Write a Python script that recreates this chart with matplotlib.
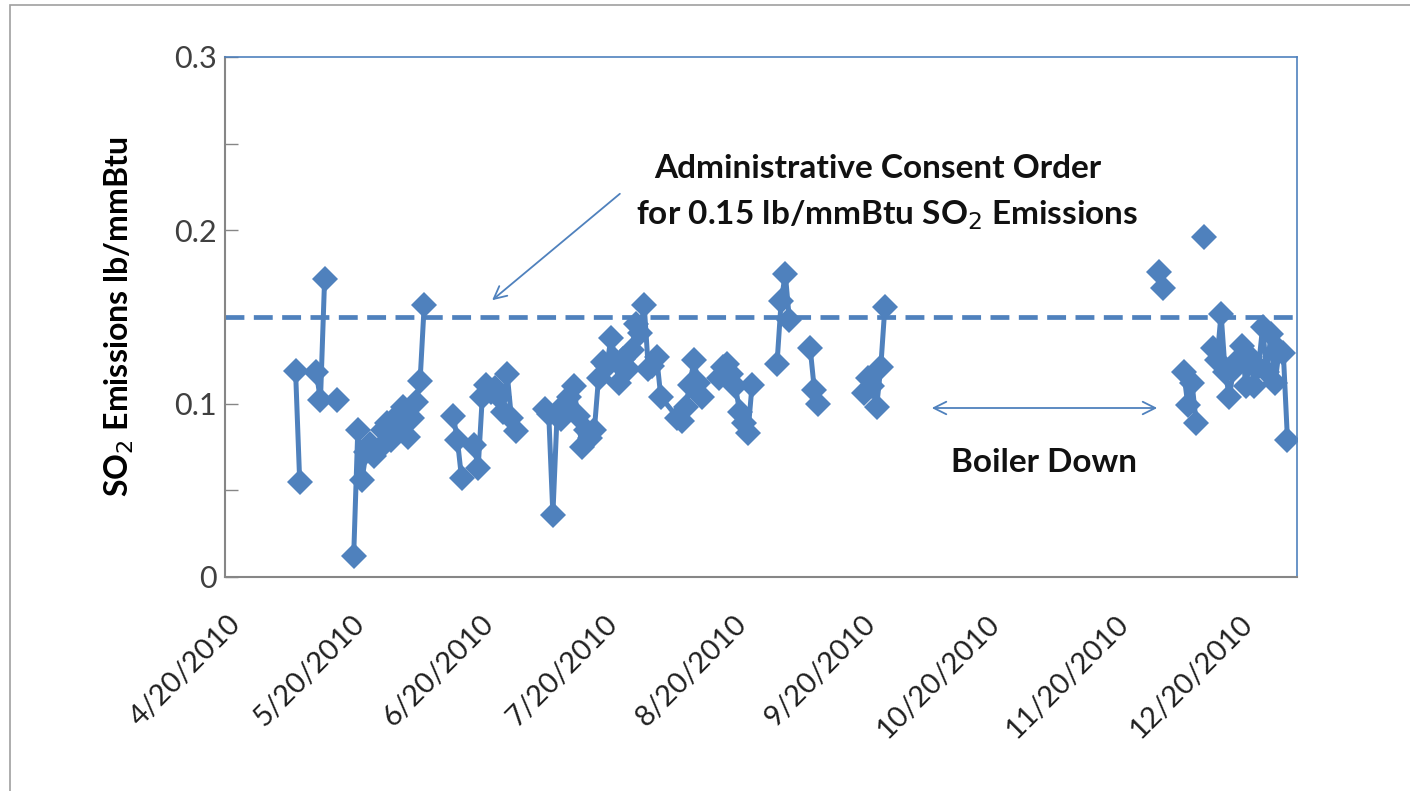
import numpy as np
import pandas as pd
import matplotlib
matplotlib.use("Agg")
import matplotlib.pyplot as plt
import matplotlib.dates as mdates
from matplotlib.transforms import ScaledTranslation
from matplotlib.patches import Rectangle

plt.rcParams['font.family'] = ['Lato', 'DejaVu Sans']

# daily SO2 readings, NaN = no line between neighbours
dates = [
    '2010-05-07', '2010-05-08', '2010-05-09',
    '2010-05-12', '2010-05-13', '2010-05-14', '2010-05-15',
    '2010-05-17', '2010-05-18',
    '2010-05-21', '2010-05-22', '2010-05-23', '2010-05-24', '2010-05-25', '2010-05-26',
    '2010-05-27', '2010-05-28', '2010-05-29', '2010-05-30', '2010-05-31', '2010-06-01',
    '2010-06-02', '2010-06-03', '2010-06-04', '2010-06-05', '2010-06-06', '2010-06-07',
    '2010-06-08',
    '2010-06-14', '2010-06-15', '2010-06-16', '2010-06-17',
    '2010-06-19', '2010-06-20', '2010-06-21', '2010-06-22', '2010-06-23', '2010-06-24',
    '2010-06-25', '2010-06-26', '2010-06-27', '2010-06-28', '2010-06-29', '2010-06-30',
    '2010-07-06', '2010-07-07', '2010-07-08', '2010-07-09', '2010-07-10', '2010-07-11',
    '2010-07-12', '2010-07-13', '2010-07-14', '2010-07-15', '2010-07-16', '2010-07-17',
    '2010-07-18', '2010-07-19', '2010-07-20', '2010-07-21', '2010-07-22', '2010-07-23',
    '2010-07-24', '2010-07-25', '2010-07-26', '2010-07-27', '2010-07-28', '2010-07-29',
    '2010-07-30', '2010-07-31', '2010-08-01', '2010-08-02', '2010-08-03',
    '2010-08-07', '2010-08-08', '2010-08-09', '2010-08-10', '2010-08-11', '2010-08-12',
    '2010-08-13', '2010-08-14',
    '2010-08-17', '2010-08-18', '2010-08-19', '2010-08-20', '2010-08-21', '2010-08-22',
    '2010-08-23', '2010-08-24', '2010-08-25', '2010-08-26',
    '2010-08-31', '2010-09-01', '2010-09-02', '2010-09-03', '2010-09-04',
    '2010-09-08', '2010-09-09', '2010-09-10', '2010-09-11',
    '2010-09-21', '2010-09-22', '2010-09-23', '2010-09-24', '2010-09-25', '2010-09-26',
    '2010-09-27',
    '2010-12-01', '2010-12-02', '2010-12-03',
    '2010-12-07', '2010-12-08', '2010-12-09', '2010-12-10', '2010-12-11',
    '2010-12-12', '2010-12-13',
    '2010-12-14', '2010-12-15', '2010-12-16', '2010-12-17', '2010-12-18', '2010-12-19',
    '2010-12-20', '2010-12-21', '2010-12-22', '2010-12-23', '2010-12-24', '2010-12-25',
    '2010-12-26', '2010-12-27', '2010-12-28', '2010-12-29', '2010-12-30', '2010-12-31',
    '2011-01-01',
]
so2 = [
    0.119, 0.055, np.nan,
    0.118, 0.102, 0.172, np.nan,
    0.102, np.nan,
    0.012, 0.085, 0.056, 0.072, 0.077, 0.070,
    0.074, 0.085, 0.089, 0.079, 0.092, 0.086,
    0.098, 0.081, 0.092, 0.101, 0.113, 0.157,
    np.nan,
    0.093, 0.079, 0.057, np.nan,
    0.076, 0.063, 0.104, 0.111, 0.107, 0.109,
    0.104, 0.095, 0.117, 0.092, 0.084, np.nan,
    0.097, 0.094, 0.036, 0.093, 0.091, 0.100,
    0.104, 0.110, 0.093, 0.075, 0.085, 0.080,
    0.085, 0.115, 0.124, 0.122, 0.138, 0.125,
    0.112, 0.126, 0.120, 0.131, 0.146, 0.141,
    0.157, 0.120, 0.122, 0.127, 0.104,
    0.092, 0.090, 0.098, 0.111, 0.125, 0.112,
    0.104, np.nan,
    0.115, 0.121, 0.123, 0.117, 0.110, 0.095,
    0.089, 0.083, 0.111, np.nan,
    0.123, 0.159, 0.175, 0.148, np.nan,
    0.132, 0.108, 0.100, np.nan,
    0.106, 0.115, 0.110, 0.098, 0.121, 0.156,
    np.nan,
    0.176, 0.167, np.nan,
    0.118, 0.099, 0.112, 0.089, np.nan,
    0.196, np.nan,
    0.132, 0.125, 0.152, 0.118, 0.104, 0.120,
    0.125, 0.133, 0.110, 0.127, 0.110, 0.121,
    0.144, 0.118, 0.140, 0.112, 0.131, 0.129,
    0.079,
]
limit = 0.15
tick_dates = ['2010-04-20', '2010-05-20', '2010-06-20', '2010-07-20', '2010-08-20',
              '2010-09-20', '2010-10-20', '2010-11-20', '2010-12-20']

blue = '#4F81BD'
x = pd.to_datetime(dates)

fig = plt.figure(figsize=(14.1, 7.91), dpi=100)
# chart-area border
fig.patches.append(Rectangle((10 / 1410, -0.01), 1.1, (791 - 5) / 791 + 0.01,
                             transform=fig.transFigure, fill=False,
                             edgecolor='#A0A0A0', linewidth=1.2))
ax = fig.add_axes([225 / 1410, 1 - 577 / 791, (1297 - 225) / 1410, (577 - 57) / 791])

ax.plot(x, so2, color=blue, linewidth=3.6, marker='D', markersize=13,
        markeredgewidth=0, zorder=3)
ax.axhline(limit, color=blue, linewidth=3.4, dashes=(4, 2), zorder=2)

ax.set_ylim(0, 0.3)
ax.set_xlim(pd.Timestamp('2010-04-20'), pd.Timestamp('2011-01-03 07:00'))
ax.set_yticks([0, 0.1, 0.2, 0.3])
ax.set_yticklabels(['0', '0.1', '0.2', '0.3'])
ax.set_yticks([0.05, 0.15, 0.25], minor=True)
ax.tick_params(axis='y', which='both', direction='in', length=9, width=1,
               color='#868686', labelsize=22, labelcolor='#404040', pad=6)
ax.set_xticks(pd.to_datetime(tick_dates))
ax.xaxis.set_major_formatter(mdates.DateFormatter('%-m/%d/%Y'))
ax.tick_params(axis='x', length=0, labelsize=21, labelcolor='#202020', pad=0)
for lab in ax.get_xticklabels():
    lab.set_rotation(45)
    lab.set_ha('right')
    lab.set_va('top')
    lab.set_rotation_mode('anchor')
    lab.set_transform(lab.get_transform() + ScaledTranslation(0.02, -0.34, fig.dpi_scale_trans))

for s in ['left', 'bottom']:
    ax.spines[s].set_color('#868686')
    ax.spines[s].set_linewidth(1.5)
for s in ['top', 'right']:
    ax.spines[s].set_color(blue)
    ax.spines[s].set_linewidth(1.2)

ax.set_ylabel('SO$_2$ Emissions lb/mmBtu', fontsize=23, fontweight='bold',
              labelpad=27)

# annotations
ax.annotate('', xy=(490, 791 - 302), xytext=(622, 791 - 192), xycoords='figure pixels',
            textcoords='figure pixels',
            arrowprops=dict(arrowstyle='->,head_length=0.9,head_width=0.45',
                            color=blue, linewidth=1.3))
fig.text(878 / 1410, 1 - 168 / 791, 'Administrative Consent Order', ha='center',
         va='center', fontsize=24, fontweight='bold', color='#111111')
fig.text(887 / 1410, 1 - 215 / 791, 'for 0.15 lb/mmBtu SO$_2$ Emissions', ha='center',
         va='center', fontsize=24, fontweight='bold', color='#111111')

ax.annotate('', xy=(929, 791 - 408), xytext=(1160, 791 - 408), xycoords='figure pixels',
            textcoords='figure pixels',
            arrowprops=dict(arrowstyle='<->,head_length=0.9,head_width=0.45',
                            color=blue, linewidth=1.3))
fig.text(1044 / 1410, 1 - 462 / 791, 'Boiler Down', ha='center', va='center',
         fontsize=24, fontweight='bold', color='#111111')

fig.savefig('out.png', dpi=100)
